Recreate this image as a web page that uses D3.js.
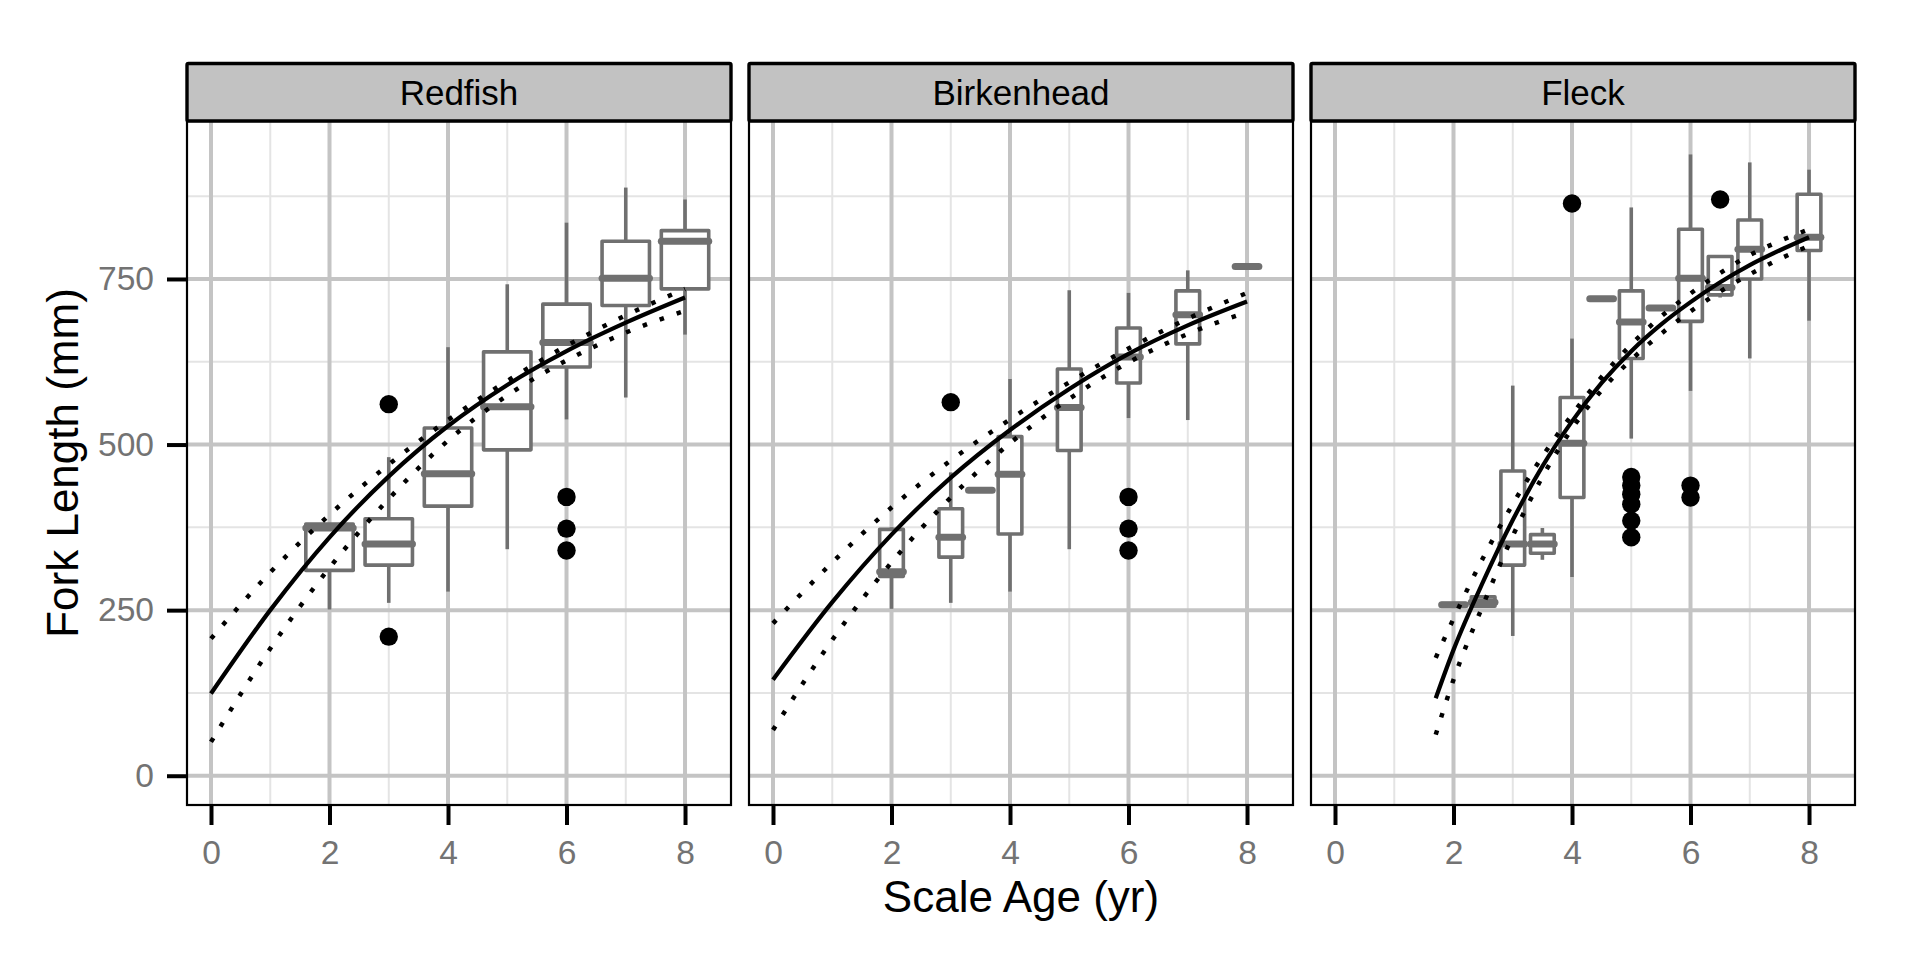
<!DOCTYPE html>
<html><head><meta charset="utf-8">
<script src="https://cdn.jsdelivr.net/npm/d3@7"></script>
<style>
body{margin:0;background:#fff;}
svg{display:block;font-family:"Liberation Sans",Arial,Helvetica,sans-serif;}
</style>
</head><body>
<svg id="chart" width="1920" height="960"></svg>
<script>
// ---------------- data ----------------
const facets = ["Redfish", "Birkenhead", "Fleck"];
const xTicks = [0, 2, 4, 6, 8];
const xMinor = [1, 3, 5, 7];
const yTicks = [0, 250, 500, 750];
const yMinor = [125, 375, 625, 875];

// box rows: [age, lower whisker, Q1, median, Q3, upper whisker]
const redfishBoxes = [
  [2, 251, 310, 374, 380, 380],
  [3, 261, 318, 350, 388, 481],
  [4, 278, 407, 456, 525, 647],
  [5, 342, 492, 557, 640, 742],
  [6, 538, 617, 654, 712, 835],
  [7, 571, 710, 751, 807, 888],
  [8, 666, 735, 807, 823, 870]
];
const birkenheadBoxes = [
  [2, 252, 301, 308, 372, 375],
  [3, 261, 330, 360, 403, 458],
  [3.5, 431, 431, 431, 431, 431],
  [4, 278, 365, 455, 512, 599],
  [5, 342, 491, 556, 614, 733],
  [6, 540, 593, 632, 676, 729],
  [7, 537, 652, 696, 732, 763],
  [8, 769, 769, 769, 769, 769]
];
const fleckBoxes = [
  [2, 256, 256, 258, 260, 260],
  [2.5, 254, 256, 262, 270, 272],
  [3, 211, 318, 350, 460, 589],
  [3.5, 326, 336, 350, 364, 374],
  [4, 300, 420, 502, 571, 660],
  [4.5, 720, 720, 720, 720, 720],
  [5, 509, 630, 685, 732, 858],
  [5.5, 706, 706, 706, 706, 706],
  [6, 581, 686, 751, 825, 938],
  [6.5, 722, 726, 737, 784, 784],
  [7, 630, 750, 795, 839, 926],
  [8, 687, 793, 813, 878, 915]
];
// outliers: [age, length]
const redfishOutliers = [[3, 561], [3, 210], [6, 421], [6, 373], [6, 340]];
const birkenheadOutliers = [[3, 564], [6, 421], [6, 373], [6, 340]];
const fleckOutliers = [[4, 864], [5, 451], [5, 438], [5, 425], [5, 410], [5, 385], [5, 360], [6, 438], [6, 420], [6.5, 870]];

// fitted growth curves and their bands
const curveAges = [0, 1, 2, 3, 4, 5, 6, 7, 8];
const redfishFit   = [124, 250, 360, 452, 528, 590, 641, 684, 722];
const redfishUpper = [207, 307, 394, 470, 537, 596, 649, 695, 735];
const redfishLower = [51, 192, 314, 418, 506, 574, 627, 669, 702];
const birkenheadFit   = [145, 262, 364, 450, 522, 584, 637, 680, 716];
const birkenheadUpper = [230, 322, 405, 476, 538, 594, 645, 690, 729];
const birkenheadLower = [69, 205, 322, 420, 502, 569, 624, 667, 700];
const fleckCurveAges = [1.7, 2, 2.5, 3, 3.5, 4, 4.5, 5, 5.5, 6, 6.5, 7, 7.5, 8];
const fleckFit   = [117, 190, 293, 386, 467, 535, 593, 641, 681, 715, 745, 771, 793, 813];
const fleckUpper = [178, 237, 329, 410, 482, 545, 602, 651, 693, 728, 759, 786, 807, 825];
const fleckLower = [62, 145, 258, 362, 451, 524, 582, 628, 667, 701, 731, 757, 780, 800];

// ---------------- layout / drawing ----------------
const panelData = [
  {boxes: redfishBoxes, outliers: redfishOutliers, ages: curveAges, fit: redfishFit, upper: redfishUpper, lower: redfishLower},
  {boxes: birkenheadBoxes, outliers: birkenheadOutliers, ages: curveAges, fit: birkenheadFit, upper: birkenheadUpper, lower: birkenheadLower},
  {boxes: fleckBoxes, outliers: fleckOutliers, ages: fleckCurveAges, fit: fleckFit, upper: fleckUpper, lower: fleckLower}
];

const svg = d3.select("#chart");
const panelW = 544, panelStep = 562, panelLeft0 = 187;
const panelTop = 121, panelBottom = 805;
const stripTop = 63.5;
const boxColor = "#707070";
const majorGrid = "#c4c4c4", minorGrid = "#e4e4e4";

const y = d3.scaleLinear().domain([-44.2, 988.5]).range([panelBottom, panelTop]);

facets.forEach((name, i) => {
  const x0 = panelLeft0 + i * panelStep;
  const x = d3.scaleLinear().domain([-0.405, 8.776]).range([x0, x0 + panelW]);
  const pd = panelData[i];
  const g = svg.append("g");

  g.append("rect").attr("x", x0).attr("y", panelTop).attr("width", panelW)
    .attr("height", panelBottom - panelTop).attr("fill", "#fff");

  // minor grid
  g.selectAll(".vmin").data(xMinor).join("line")
    .attr("x1", d => x(d)).attr("x2", d => x(d)).attr("y1", panelTop).attr("y2", panelBottom)
    .attr("stroke", minorGrid).attr("stroke-width", 2);
  g.selectAll(".hmin").data(yMinor).join("line")
    .attr("x1", x0).attr("x2", x0 + panelW).attr("y1", d => y(d)).attr("y2", d => y(d))
    .attr("stroke", minorGrid).attr("stroke-width", 2);
  // major grid
  g.selectAll(".vmaj").data(xTicks).join("line")
    .attr("x1", d => x(d)).attr("x2", d => x(d)).attr("y1", panelTop).attr("y2", panelBottom)
    .attr("stroke", majorGrid).attr("stroke-width", 4);
  g.selectAll(".hmaj").data(yTicks).join("line")
    .attr("x1", x0).attr("x2", x0 + panelW).attr("y1", d => y(d)).attr("y2", d => y(d))
    .attr("stroke", majorGrid).attr("stroke-width", 4);

  // box width from data resolution
  const ages = pd.boxes.map(b => b[0]);
  let res = Infinity;
  for (let k = 1; k < ages.length; k++) res = Math.min(res, ages[k] - ages[k - 1]);
  const bw = 0.8 * res;

  const bg = g.append("g");
  pd.boxes.forEach(b => {
    const [age, lo, q1, med, q3, hi] = b;
    const cx = x(age);
    const half = (x(age + bw / 2) - x(age - bw / 2)) / 2;
    bg.append("line").attr("x1", cx).attr("x2", cx).attr("y1", y(hi)).attr("y2", y(q3))
      .attr("stroke", boxColor).attr("stroke-width", 3.6);
    bg.append("line").attr("x1", cx).attr("x2", cx).attr("y1", y(q1)).attr("y2", y(lo))
      .attr("stroke", boxColor).attr("stroke-width", 3.6);
    bg.append("rect").attr("x", cx - half).attr("y", y(q3)).attr("width", 2 * half)
      .attr("height", Math.max(0, y(q1) - y(q3)))
      .attr("fill", "#fff").attr("stroke", boxColor).attr("stroke-width", 3.6)
      .attr("stroke-linejoin", "round");
    bg.append("line").attr("x1", cx - half).attr("x2", cx + half).attr("y1", y(med)).attr("y2", y(med))
      .attr("stroke", boxColor).attr("stroke-width", 7).attr("stroke-linecap", "round");
  });

  // outliers
  g.selectAll(".out").data(pd.outliers).join("circle")
    .attr("cx", d => x(d[0])).attr("cy", d => y(d[1])).attr("r", 9.2).attr("fill", "#000");

  // curves
  const line = d3.line().x(d => x(d[0])).y(d => y(d[1])).curve(d3.curveMonotoneX);
  const pts = arr => pd.ages.map((a, k) => [a, arr[k]]);
  g.append("path").attr("d", line(pts(pd.upper))).attr("fill", "none").attr("stroke", "#000")
    .attr("stroke-width", 4.5).attr("stroke-dasharray", "4.5 13.5");
  g.append("path").attr("d", line(pts(pd.lower))).attr("fill", "none").attr("stroke", "#000")
    .attr("stroke-width", 4.5).attr("stroke-dasharray", "4.5 13.5");
  g.append("path").attr("d", line(pts(pd.fit))).attr("fill", "none").attr("stroke", "#000")
    .attr("stroke-width", 4.2);

  // panel border
  g.append("rect").attr("x", x0).attr("y", panelTop).attr("width", panelW)
    .attr("height", panelBottom - panelTop).attr("fill", "none").attr("stroke", "#000").attr("stroke-width", 2.2);

  // strip
  g.append("rect").attr("x", x0).attr("y", stripTop).attr("width", panelW)
    .attr("height", panelTop - stripTop).attr("fill", "#c2c2c2").attr("stroke", "#000")
    .attr("stroke-width", 3.4).attr("rx", 1.5);
  g.append("text").attr("x", x0 + panelW / 2).attr("y", 104.5).attr("text-anchor", "middle")
    .attr("font-size", 35).attr("fill", "#000").text(name);

  // x axis
  const xa = g.append("g").attr("transform", `translate(0,${panelBottom + 1})`)
    .call(d3.axisBottom(x).tickValues(xTicks).tickSize(19).tickPadding(15).tickFormat(d3.format("d")));
  xa.select(".domain").remove();
  xa.selectAll(".tick line").attr("stroke", "#000").attr("stroke-width", 4);
  xa.selectAll(".tick text").attr("fill", "#737373").attr("font-size", 33.6)
    .attr("font-family", "'Liberation Sans',Arial,sans-serif");

  if (i === 0) {
    const ya = g.append("g").attr("transform", `translate(${x0 - 1},0)`)
      .call(d3.axisLeft(y).tickValues(yTicks).tickSize(19).tickPadding(13).tickFormat(d3.format("d")));
    ya.select(".domain").remove();
    ya.selectAll(".tick line").attr("stroke", "#000").attr("stroke-width", 4);
    ya.selectAll(".tick text").attr("fill", "#737373").attr("font-size", 33.6)
      .attr("font-family", "'Liberation Sans',Arial,sans-serif");
  }
});

// axis titles
svg.append("text").attr("x", (panelLeft0 + panelLeft0 + 2 * panelStep + panelW) / 2).attr("y", 912)
  .attr("text-anchor", "middle").attr("font-size", 44).attr("fill", "#000").text("Scale Age (yr)");
svg.append("text").attr("transform", `translate(78,${(panelTop + panelBottom) / 2}) rotate(-90)`)
  .attr("text-anchor", "middle").attr("font-size", 44).attr("fill", "#000").text("Fork Length (mm)");
</script>
</body></html>
